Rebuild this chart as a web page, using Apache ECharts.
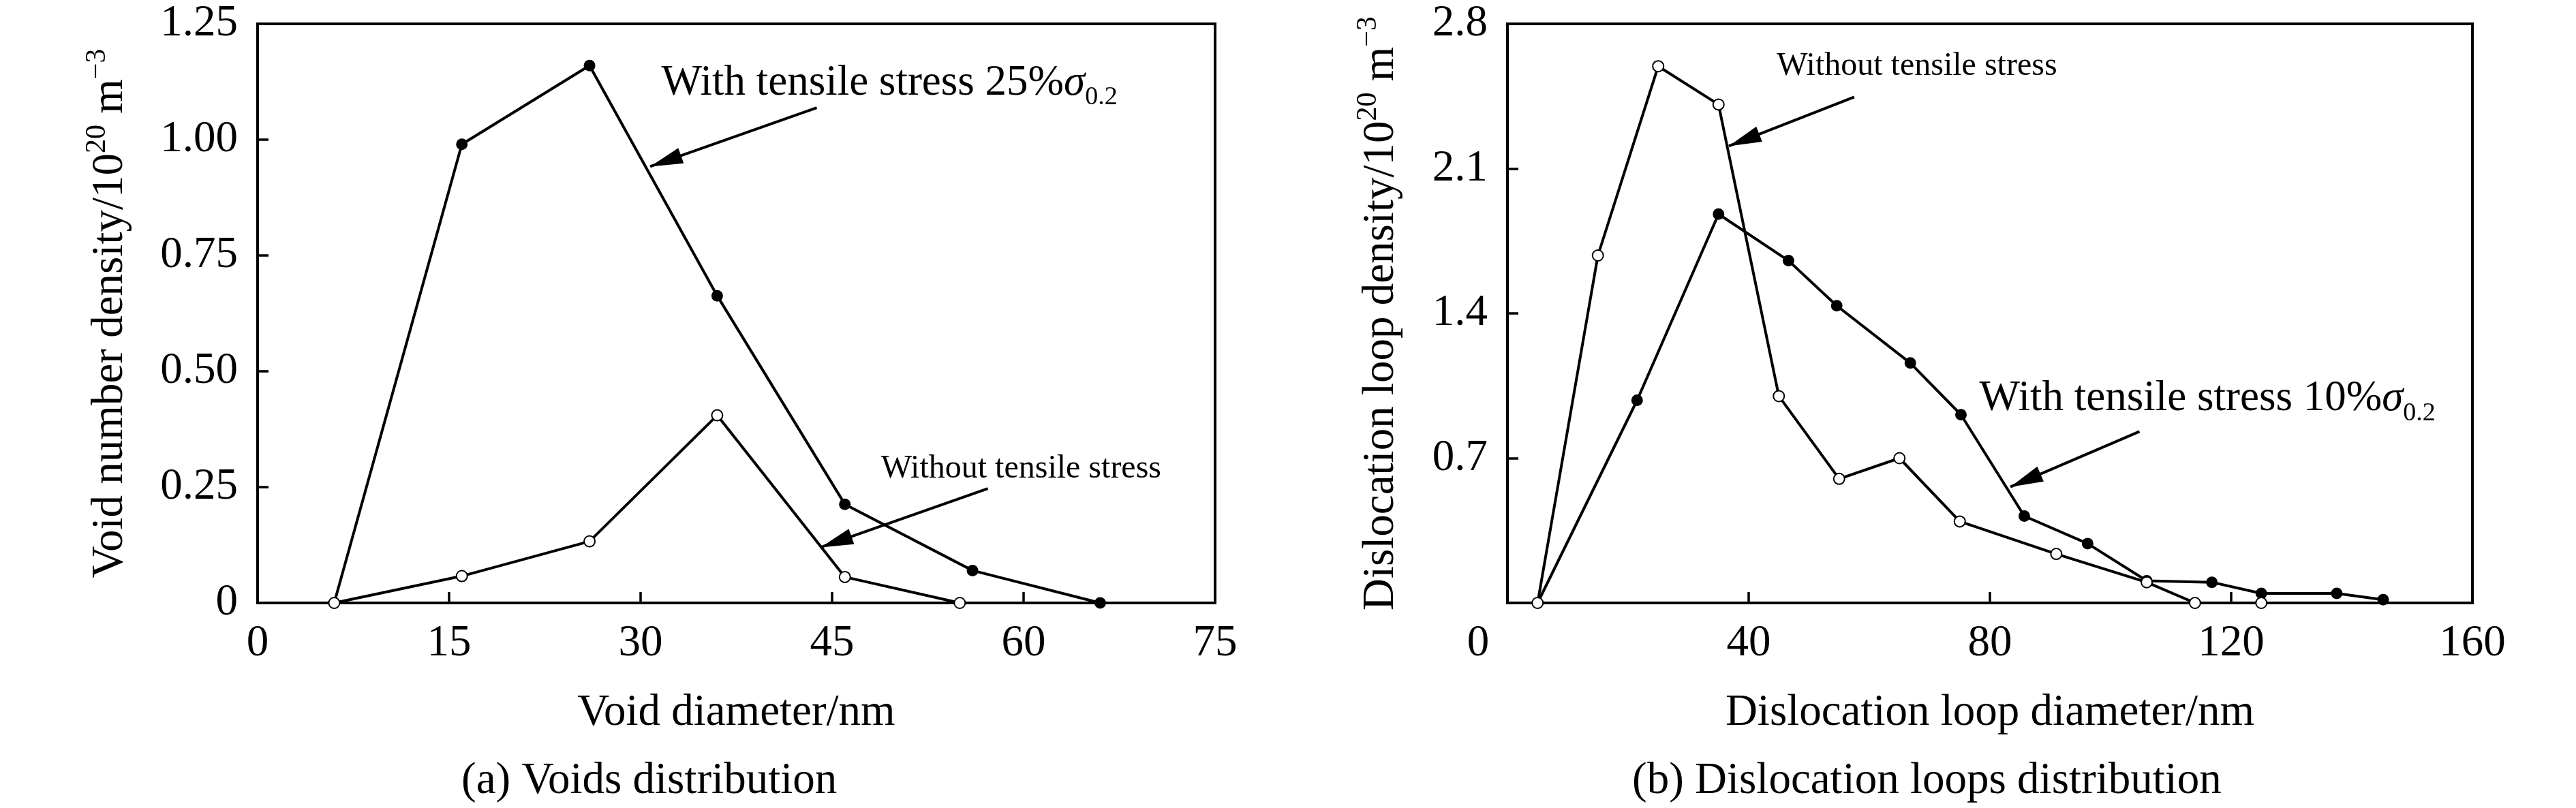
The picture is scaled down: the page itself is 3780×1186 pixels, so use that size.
<!DOCTYPE html>
<html>
<head>
<meta charset="utf-8">
<script src="https://cdn.jsdelivr.net/npm/echarts@6/dist/echarts.min.js"></script>
<style>
  html, body { margin: 0; padding: 0; background: #fff; }
  #main { width: 3780px; height: 1186px; }
</style>
</head>
<body>
<div id="main"></div>
<script>
// (a) voids: diameter (nm) vs number density (1e20 m^-3)
var voidWithX = [6, 16, 26, 36, 46, 56, 66];
var voidWithY = [0, 0.99, 1.16, 0.663, 0.213, 0.07, 0];
var voidWithoutX = [6, 16, 26, 36, 46, 55];
var voidWithoutY = [0, 0.058, 0.133, 0.405, 0.056, 0];

// (b) dislocation loops: diameter (nm) vs density (1e20 m^-3)
var loopWithoutX = [5, 15, 25, 35, 45, 55, 65, 75, 91, 106, 114, 125];
var loopWithoutY = [0, 1.68, 2.595, 2.41, 1.0, 0.6, 0.7, 0.394, 0.237, 0.1, 0, 0];
var loopWithX = [5, 21.5, 35, 46.6, 54.6, 66.8, 75.2, 85.7, 96.2, 106, 116.8, 125, 137.5, 145.2];
var loopWithY = [0, 0.98, 1.88, 1.655, 1.437, 1.16, 0.91, 0.42, 0.287, 0.107, 0.1, 0.046, 0.046, 0.016];

var FONT = 'Liberation Serif';
var chart = echarts.init(document.getElementById('main'));

function pairs(xs, ys) {
  return xs.map(function (x, i) { return [x, ys[i]]; });
}

// arrow drawn as a markLine, tip at the second coord
function arrow(from, to) {
  return [
    { coord: from, symbol: 'none' },
    { coord: to, symbol: 'triangle', symbolSize: [24, 48], symbolOffset: [0, 24] }
  ];
}

function note(coord, text, rich) {
  return {
    coord: coord,
    symbol: 'circle',
    symbolSize: 1,
    itemStyle: { color: 'rgba(0,0,0,0)' },
    label: {
      show: true, position: 'right', distance: 0,
      formatter: text, rich: rich,
      fontFamily: FONT, fontSize: 48, color: '#000'
    }
  };
}

var sigmaRich = {
  t: { fontFamily: FONT, fontSize: 63, lineHeight: 80, color: '#000' },
  i: { fontFamily: FONT, fontSize: 63, lineHeight: 80, fontStyle: 'italic', color: '#000' },
  s: { fontFamily: FONT, fontSize: 38, lineHeight: 38, verticalAlign: 'bottom', color: '#000' }
};

var titleRich = {
  t: { fontFamily: FONT, fontSize: 65, lineHeight: 80, color: '#000' },
  s: { fontFamily: FONT, fontSize: 42, lineHeight: 42, verticalAlign: 'top', color: '#000' }
};

function xAxis(idx, max, step, name, zeroShift) {
  return {
    type: 'value', gridIndex: idx, min: 0, max: max, interval: step,
    name: name, nameLocation: 'middle', nameGap: 129,
    nameTextStyle: { fontFamily: FONT, fontSize: 65, color: '#000' },
    axisLine: { show: true, onZero: false, lineStyle: { color: '#000', width: 4 } },
    axisTick: { show: true, inside: true, length: 16, lineStyle: { color: '#000', width: 3.5 } },
    axisLabel: {
      margin: 27, fontFamily: FONT, fontSize: 65, color: '#000',
      formatter: function (v) { return (v === 0 && zeroShift) ? '{z|0}' : String(v); },
      rich: { z: { fontFamily: FONT, fontSize: 65, color: '#000', padding: [0, zeroShift || 0, 0, 0] } }
    },
    splitLine: { show: false }
  };
}

function yAxis(idx, max, step, name, gap, digits, showZero) {
  return {
    type: 'value', gridIndex: idx, min: 0, max: max, interval: step,
    name: name, nameLocation: 'middle', nameGap: gap,
    nameTextStyle: { fontFamily: FONT, fontSize: 65, color: '#000', rich: titleRich },
    axisLine: { show: true, lineStyle: { color: '#000', width: 4 } },
    axisTick: { show: true, inside: true, length: 16, lineStyle: { color: '#000', width: 3.5 } },
    axisLabel: {
      margin: 29, fontFamily: FONT, fontSize: 65, color: '#000',
      formatter: function (v) {
        if (v === 0) return showZero ? '0' : '';
        return v.toFixed(digits);
      }
    },
    splitLine: { show: false }
  };
}

function lineSeries(idx, data, filled, extra) {
  var s = {
    type: 'line', xAxisIndex: idx, yAxisIndex: idx,
    data: data, silent: true,
    symbol: 'circle', symbolSize: filled ? 17 : 16, showSymbol: true,
    lineStyle: { color: '#000', width: 4 },
    itemStyle: filled
      ? { color: '#000', borderColor: '#000', borderWidth: 0 }
      : { color: '#fff', borderColor: '#000', borderWidth: 2 },
    emphasis: { disabled: true }
  };
  if (extra) {
    s.markLine = {
      silent: true, animation: false, symbol: 'none',
      lineStyle: { color: '#000', width: 4, type: 'solid' },
      label: { show: false },
      data: [extra.arrow]
    };
    s.markPoint = { silent: true, animation: false, data: [extra.note] };
  }
  return s;
}

chart.setOption({
  backgroundColor: '#fff',
  animation: false,
  title: [
    { text: '(a) Voids distribution', left: 677, top: 1114, padding: 0,
      textStyle: { fontFamily: FONT, fontSize: 65, fontWeight: 'normal', color: '#000' } },
    { text: '(b) Dislocation loops distribution', left: 2395, top: 1114, padding: 0,
      textStyle: { fontFamily: FONT, fontSize: 65, fontWeight: 'normal', color: '#000' } }
  ],
  grid: [
    { left: 378, top: 35, width: 1405, height: 850, show: true, borderColor: '#000', borderWidth: 4 },
    { left: 2212, top: 35, width: 1416, height: 850, show: true, borderColor: '#000', borderWidth: 4 }
  ],
  xAxis: [
    xAxis(0, 75, 15, 'Void diameter/nm', 0),
    xAxis(1, 160, 40, 'Dislocation loop diameter/nm', 86)
  ],
  yAxis: [
    yAxis(0, 1.25, 0.25, '{t|Void number density/10}{s|20}{t| m}{s|\u22123}', 176, 2, true),
    yAxis(1, 2.8, 0.7, '{t|Dislocation loop density/10}{s|20}{t| m}{s|\u22123}', 145, 1, false)
  ],
  series: [
    lineSeries(0, pairs(voidWithX, voidWithY), true, {
      arrow: arrow([43.8, 1.069], [30.75, 0.942]),
      note: note([31.6, 1.122], '{t|With tensile stress 25%}{i|\u03c3}{s|0.2}', sigmaRich)
    }),
    lineSeries(0, pairs(voidWithoutX, voidWithoutY), false, {
      arrow: arrow([57.2, 0.247], [44.1, 0.12]),
      note: note([48.8, 0.289], 'Without tensile stress')
    }),
    lineSeries(1, pairs(loopWithX, loopWithY), true, {
      arrow: arrow([104.8, 0.829], [83.4, 0.561]),
      note: note([78.2, 0.986], '{t|With tensile stress 10%}{i|\u03c3}{s|0.2}', sigmaRich)
    }),
    lineSeries(1, pairs(loopWithoutX, loopWithoutY), false, {
      arrow: arrow([57.5, 2.446], [36.7, 2.209]),
      note: note([44.6, 2.595], 'Without tensile stress')
    })
  ]
});
</script>
</body>
</html>
